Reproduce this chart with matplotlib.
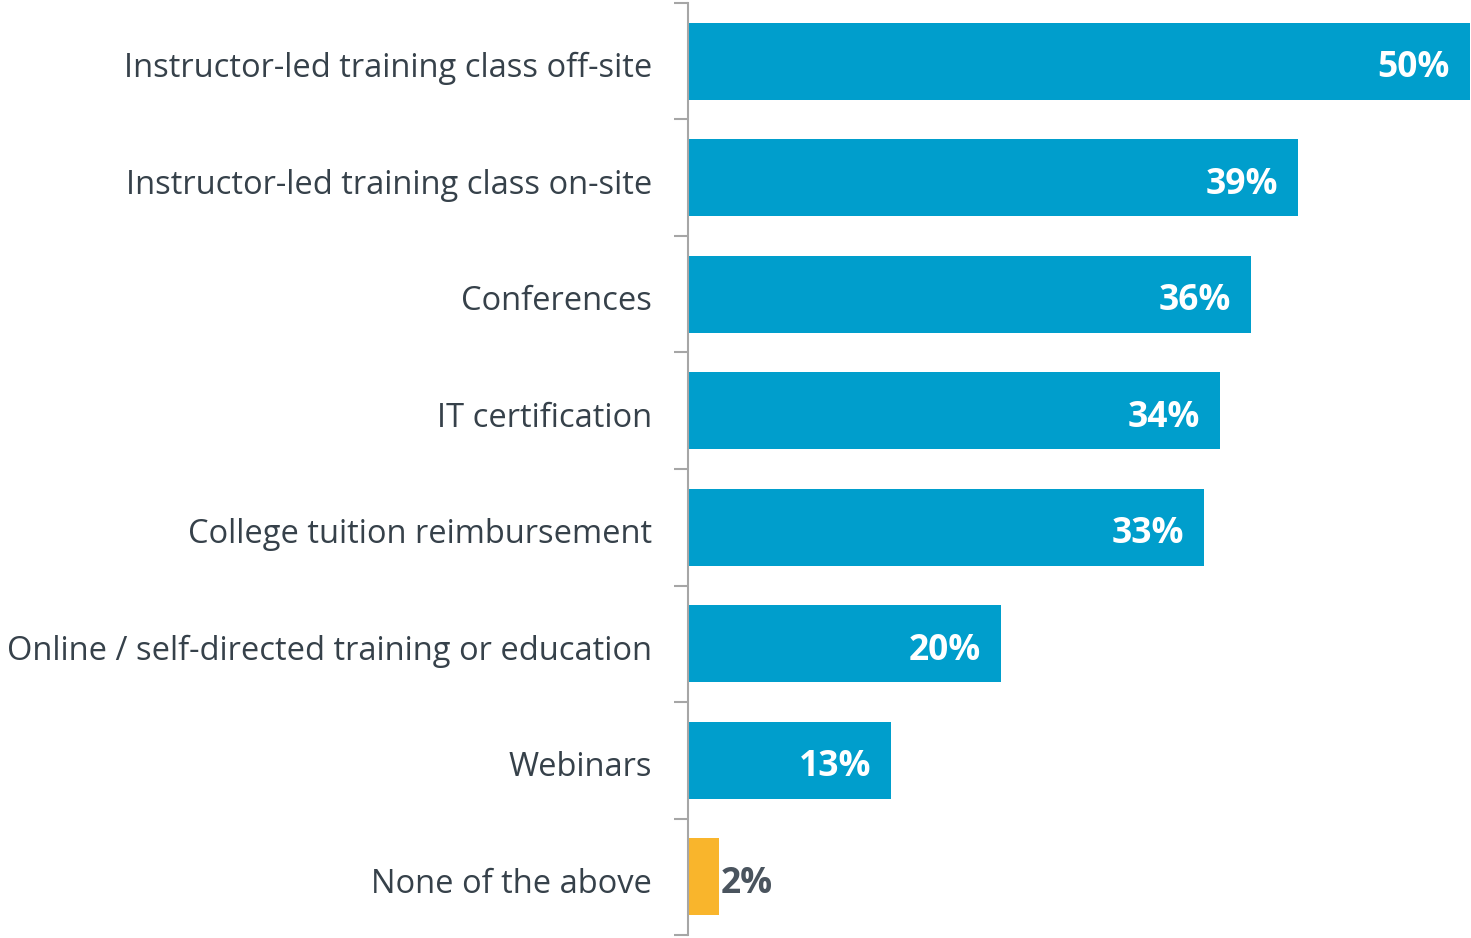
import matplotlib.pyplot as plt
import matplotlib.transforms as mtransforms
import numpy as np

categories = [
    'Instructor-led training class off-site',
    'Instructor-led training class on-site',
    'Conferences',
    'IT certification',
    'College tuition reimbursement',
    'Online / self-directed training or education',
    'Webinars',
    'None of the above',
]
values = [50, 39, 36, 34, 33, 20, 13, 2]

blue = '#009ECC'
yellow = '#F9B52C'
text_col = '#36414A'

plt.rcParams['font.family'] = ['Open Sans', 'DejaVu Sans']

fig = plt.figure(figsize=(14.71, 9.38), dpi=100)
ax = fig.add_axes([688 / 1471, 3 / 938, 782 / 1471, 932 / 938])

y = np.arange(len(categories))
colors = [blue] * (len(values) - 1) + [yellow]
ax.barh(y, values, height=0.66, color=colors)

ax.set_xlim(0, 50)
ax.set_ylim(len(categories) - 0.5, -0.5)

for yi, v in zip(y, values):
    if v >= 5:
        ax.text(v - 1.28, yi + 0.06, f'{v}%', ha='right', va='center',
                color='white', fontsize=25.5, fontweight='bold')
    else:
        ax.text(v + 0.1, yi + 0.06, f'{v}%', ha='left', va='center',
                color='#4A545E', fontsize=25.5, fontweight='bold')

ax.set_yticks(y)
ax.set_yticklabels(categories, fontsize=23.5, color=text_col)
ax.tick_params(axis='y', which='major', length=0, pad=26)
shift = mtransforms.ScaledTranslation(0, -3.5 / 100, fig.dpi_scale_trans)
for lab in ax.get_yticklabels():
    lab.set_transform(lab.get_transform() + shift)
ax.set_yticks(np.arange(-0.5, len(categories)), minor=True)
ax.tick_params(axis='y', which='minor', length=10, width=1.5, color='#A6A6A6')
ax.set_xticks([])

for s in ['top', 'right', 'bottom']:
    ax.spines[s].set_visible(False)
ax.spines['left'].set_color('#A6A6A6')
ax.spines['left'].set_linewidth(1.5)

fig.savefig('out.png', dpi=100)
